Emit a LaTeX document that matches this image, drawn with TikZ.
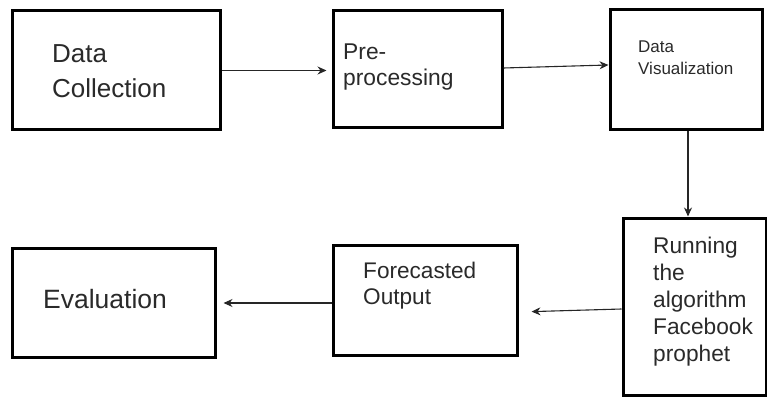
\documentclass[tikz,border=0pt]{standalone}
\usepackage{fontspec}
\setmainfont{Liberation Sans}
\usetikzlibrary{arrows.meta}
\definecolor{txt}{HTML}{2A2A2A}
\tikzset{
  box/.style={draw=black, line width=3pt, rectangle, inner sep=0pt, fill=white},
  lbl/.style={anchor=base west, inner sep=0pt, align=left, text=txt},
  conn/.style={draw=black!85, line width=1.1pt, -{Stealth[length=9pt,width=8pt]}},
}
\begin{document}
\begin{tikzpicture}[x=1pt,y=-1pt]
\useasboundingbox (0,0) rectangle (767,398);
% boxes
\node[box, minimum width=208pt, minimum height=119pt] (dc) at (116,70.5) {};
\node[box, minimum width=169pt, minimum height=117pt] (pp) at (417.5,69.5) {};
\node[box, minimum width=152pt, minimum height=120pt] (dv) at (686,70) {};
\node[box, minimum width=143pt, minimum height=177pt] (ra) at (694.5,306.5) {};
\node[box, minimum width=184pt, minimum height=110pt] (fo) at (425,300) {};
\node[box, minimum width=203pt, minimum height=109pt] (ev) at (113.5,302.5) {};
% labels (anchor = baseline of last line)
\node[lbl, font=\fontsize{26}{35}\selectfont] (tdc) at (52,98) {Data\\Collection};
\node[lbl, font=\fontsize{22.8}{26}\selectfont] (tpp) at (343,86) {Pre-\\processing};
\node[lbl, font=\fontsize{17}{22}\selectfont] (tdv) at (638,75) {Data\\Visualization};
\node[lbl, font=\fontsize{22.7}{27}\selectfont] (tra) at (653,361) {Running\\the\\algorithm\\Facebook\\prophet};
\node[lbl, font=\fontsize{22.6}{26}\selectfont] (tfo) at (363,304) {Forecasted\\Output};
\node[lbl, font=\fontsize{26.5}{32}\selectfont] (tev) at (43,308) {Evaluation};
% connectors
\draw[conn, shorten >=5pt] (dc.east) -- (dc.east -| pp.west);
\draw[conn] ([yshift=1.5pt]pp.east) -- ([yshift=5pt]dv.west);
\draw[conn] ([xshift=2pt]dv.south) -- ([xshift=2pt]dv.south |- ra.north);
\draw[conn, shorten >=13pt] ([yshift=-2.5pt]ra.west) -- ([yshift=-12pt]fo.east);
\draw[conn, shorten >=7pt] ([yshift=-3pt]fo.west) -- ([yshift=-0.5pt]ev.east);
\end{tikzpicture}
\end{document}
